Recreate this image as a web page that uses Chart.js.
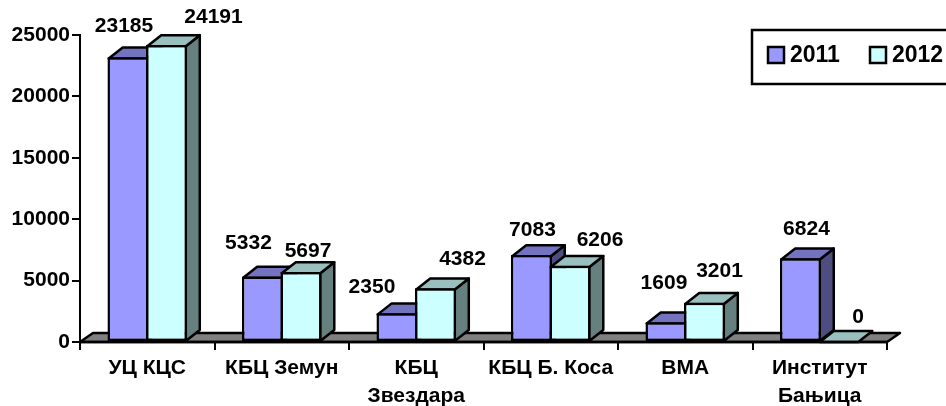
<!DOCTYPE html>
<html>
<head>
<meta charset="utf-8">
<style>
	html, body { margin: 0; padding: 0; background: #fff; }
	#wrap { width: 946px; height: 406px; }
</style>
<script src="https://cdn.jsdelivr.net/npm/chart.js@4/dist/chart.umd.min.js"></script>
</head>
<body>
<div id="wrap"><canvas id="chart" width="946" height="406"></canvas></div>
<script>
const categories = ["УЦ КЦС", "КБЦ Земун", ["КБЦ", "Звездара"], "КБЦ Б. Коса", "ВМА", ["Институт", "Бањица"]];
const values2011 = [23185, 5332, 2350, 7083, 1609, 6824];
const values2012 = [24191, 5697, 4382, 6206, 3201, 0];
const seriesNames = ["2011", "2012"];
const yTicks = [0, 5000, 10000, 15000, 20000, 25000];

// value labels were hand placed in the original, so nudge each one
const labelNudge = [
	[[-4, -31], [-14, -33], [-25, -26], [1, -25], [-2, -39], [6, -29]],
	[[47, -28], [7, -21], [27, -29], [30, -26], [15, -31], [19, -25]]
];

const FONT = "'Liberation Sans', Arial, sans-serif";
const LINE = 2.5;
const DEPTH_X = 14;
const DEPTH_Y = 11;
const faces = [
	{ front: "#9999ff", top: "#7373bf", side: "#4d4d80" },
	{ front: "#ccffff", top: "#99bfbf", side: "#668080" }
];

function poly(ctx, pts, fill) {
	ctx.beginPath();
	pts.forEach((p, i) => i ? ctx.lineTo(p[0], p[1]) : ctx.moveTo(p[0], p[1]));
	ctx.closePath();
	ctx.fillStyle = fill;
	ctx.fill();
	ctx.stroke();
}

const bars3d = {
	id: "bars3d",
	// default draw order would put 2011 over 2012, we paint them ourselves below
	beforeDatasetDraw() {
		return false;
	},
	afterDatasetsDraw(chart) {
		const { ctx, chartArea: a } = chart;
		ctx.save();
		ctx.lineWidth = LINE;
		ctx.strokeStyle = "#000";
		ctx.lineJoin = "round";
		// grey floor under the bars
		poly(ctx, [[a.left, a.bottom], [a.left + 13, a.bottom - 9], [a.right + 13, a.bottom - 9], [a.right, a.bottom]], "#808080");

		chart.data.datasets.forEach((ds, d) => {
			const colors = faces[d];
			chart.getDatasetMeta(d).data.forEach(bar => {
				// library border is inset, line the faces up with its centre
				const l = bar.x - bar.width / 2 + LINE / 2;
				const r = bar.x + bar.width / 2 - LINE / 2;
				const flat = bar.base - bar.y < 1;
				const t = flat ? bar.base : bar.y + LINE / 2;
				if (!flat) {
					poly(ctx, [[r, t], [r + DEPTH_X, t - DEPTH_Y], [r + DEPTH_X, bar.base - DEPTH_Y], [r, bar.base]], colors.side);
				}
				poly(ctx, [[l, t], [l + DEPTH_X, t - DEPTH_Y], [r + DEPTH_X, t - DEPTH_Y], [r, t]], colors.top);
				if (!flat) bar.draw(ctx);
			});
		});

		// axis line sits over the bar feet
		ctx.beginPath();
		ctx.moveTo(a.left, a.bottom);
		ctx.lineTo(a.right, a.bottom);
		ctx.stroke();

		ctx.fillStyle = "#000";
		ctx.font = "bold 21px " + FONT;
		ctx.textAlign = "center";
		ctx.textBaseline = "middle";
		chart.data.datasets.forEach((ds, d) => {
			chart.getDatasetMeta(d).data.forEach((bar, i) => {
				const n = labelNudge[d][i];
				ctx.fillText(String(ds.data[i]), bar.x + n[0], bar.y + n[1]);
			});
		});
		ctx.restore();
	},
	afterDraw(chart) {
		// legend box runs off the right edge like in the picture
		const { ctx } = chart;
		ctx.save();
		ctx.lineWidth = LINE;
		ctx.strokeStyle = "#000";
		ctx.strokeRect(752, 30, 260, 54);
		ctx.font = "bold 23px " + FONT;
		ctx.textBaseline = "middle";
		seriesNames.forEach((name, i) => {
			const x = 768 + i * 102;
			ctx.fillStyle = faces[i].front;
			ctx.fillRect(x, 47, 16, 16);
			ctx.strokeRect(x, 47, 16, 16);
			ctx.fillStyle = "#000";
			ctx.fillText(name, x + 22, 56);
		});
		ctx.restore();
	}
};

new Chart(document.getElementById("chart"), {
	type: "bar",
	data: {
		labels: categories,
		datasets: [
			{ label: seriesNames[0], data: values2011, backgroundColor: faces[0].front },
			{ label: seriesNames[1], data: values2012, backgroundColor: faces[1].front }
		].map(ds => Object.assign(ds, {
			borderColor: "#000",
			borderWidth: LINE,
			borderSkipped: false,
			categoryPercentage: 0.573,
			barPercentage: 1.065
		}))
	},
	options: {
		responsive: false,
		animation: false,
		layout: { padding: { top: 35, right: 59 } },
		plugins: { legend: { display: false }, tooltip: { enabled: false } },
		scales: {
			x: {
				afterFit(scale) { scale.height = 64; },
				grid: { drawOnChartArea: false, color: "#000", lineWidth: 2, tickLength: 8 },
				border: { color: "#000", width: 2 },
				ticks: {
					color: "#000",
					font: { family: FONT, size: 21, weight: "bold", lineHeight: 1.3 },
					padding: 5,
					maxRotation: 0,
					autoSkip: false
				}
			},
			y: {
				min: yTicks[0],
				max: yTicks[yTicks.length - 1],
				afterFit(scale) { scale.width = 80; },
				afterBuildTicks(scale) { scale.ticks = yTicks.map(v => ({ value: v })); },
				grid: { drawOnChartArea: false, color: "#000", lineWidth: 2, tickLength: 8 },
				border: { color: "#000", width: 2 },
				ticks: {
					color: "#000",
					font: { family: FONT, size: 21, weight: "bold" },
					padding: 2,
					callback: v => String(v)
				}
			}
		}
	},
	plugins: [bars3d]
});
</script>
</body>
</html>
